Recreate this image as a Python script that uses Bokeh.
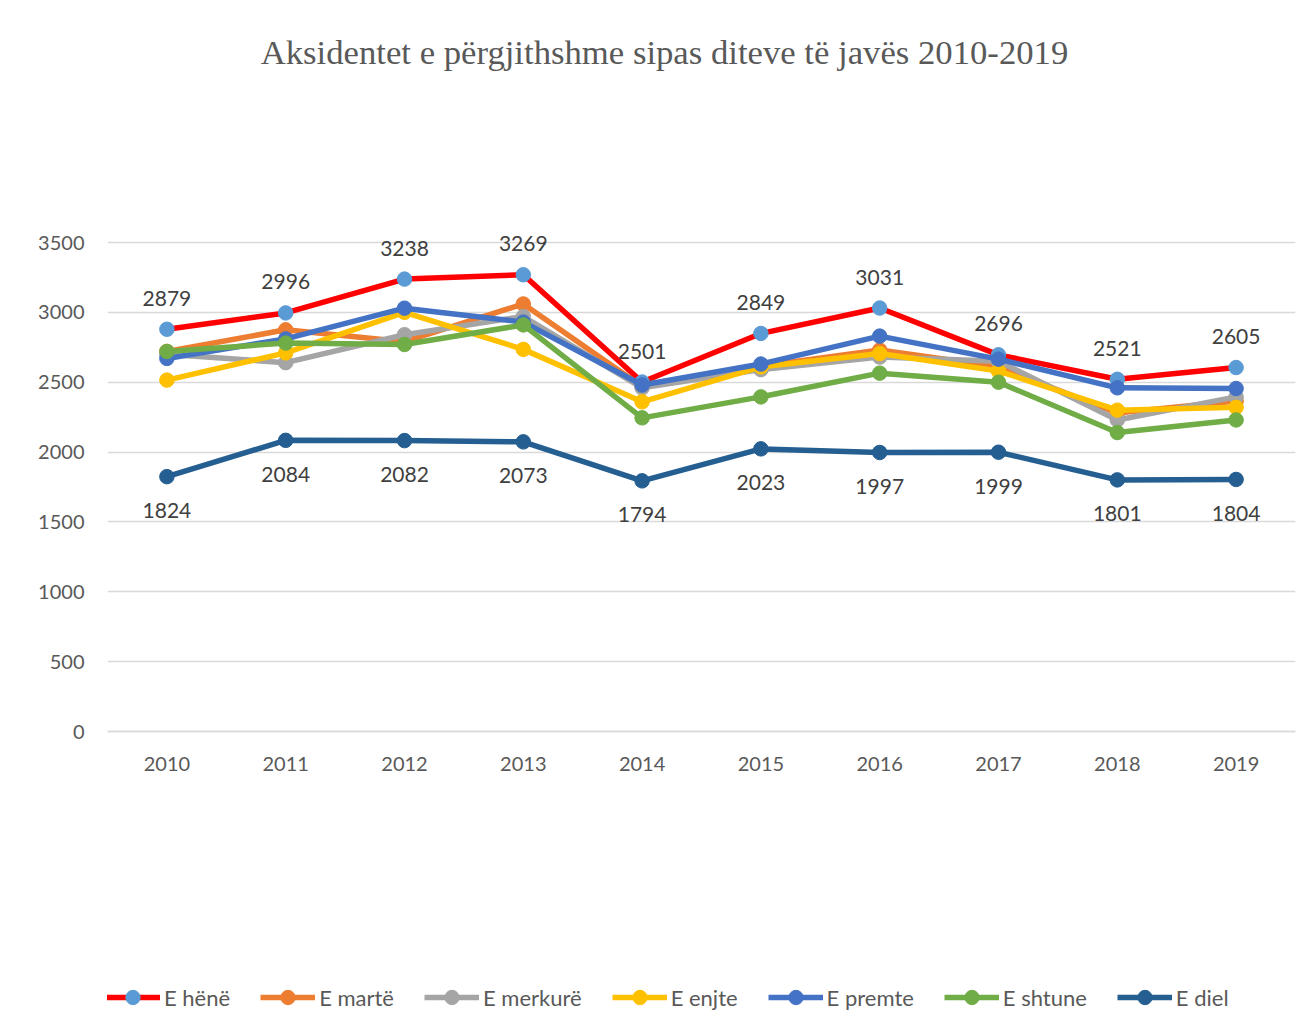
from bokeh.plotting import figure
from bokeh.models import Range1d, FixedTicker, Legend, LegendItem, Label, ColumnDataSource, FactorRange
from bokeh.embed import file_html
from bokeh.resources import INLINE
from bokeh.core.properties import value

years = ["2010", "2011", "2012", "2013", "2014", "2015", "2016", "2017", "2018", "2019"]
e_hene = [2879, 2996, 3238, 3269, 2501, 2849, 3031, 2696, 2521, 2605]
e_marte = [2720, 2875, 2790, 3060, 2470, 2615, 2730, 2610, 2280, 2365]
e_merkure = [2700, 2640, 2840, 2970, 2460, 2590, 2680, 2650, 2230, 2395]
e_enjte = [2515, 2710, 3000, 2735, 2360, 2610, 2705, 2580, 2300, 2320]
e_premte = [2670, 2810, 3030, 2930, 2480, 2630, 2830, 2665, 2460, 2455]
e_shtune = [2720, 2780, 2770, 2910, 2245, 2395, 2565, 2500, 2140, 2230]
e_diel = [1824, 2084, 2082, 2073, 1794, 2023, 1997, 1999, 1801, 1804]
y_ticks = [0, 500, 1000, 1500, 2000, 2500, 3000, 3500]

title_text = "Aksidentet e përgjithshme sipas diteve të javës 2010-2019"

series = [
    ("E hënë", e_hene, "#FF0000", "#5B9BD5"),
    ("E martë", e_marte, "#ED7D31", "#ED7D31"),
    ("E merkurë", e_merkure, "#A5A5A5", "#A5A5A5"),
    ("E enjte", e_enjte, "#FFC000", "#FFC000"),
    ("E premte", e_premte, "#4472C4", "#4472C4"),
    ("E shtune", e_shtune, "#70AD47", "#70AD47"),
    ("E diel", e_diel, "#255E91", "#255E91"),
]

SANS = "Lato"
p = figure(
    x_range=FactorRange(factors=years),
    y_range=Range1d(-2054.2, 5103.3),
    width=1298, height=1018,
    min_border_left=107, min_border_right=3, min_border_top=18, min_border_bottom=0,
    output_backend="svg", toolbar_location=None,
)
p.background_fill_color = "white"
p.border_fill_color = "white"
p.outline_line_color = None

# axes
p.yaxis.ticker = FixedTicker(ticks=y_ticks)
p.yaxis.axis_line_color = None
p.yaxis.major_tick_line_color = None
p.yaxis.minor_tick_line_color = None
p.yaxis.major_label_standoff = 17
p.yaxis.major_label_text_font = SANS
p.yaxis.major_label_text_font_size = "20px"
p.yaxis.major_label_text_color = "#595959"
p.ygrid.grid_line_color = "#D9D9D9"
p.ygrid.grid_line_width = 1.3

p.xaxis.fixed_location = 0
p.xaxis.axis_line_color = "#D9D9D9"
p.xaxis.axis_line_width = 1.3
p.xaxis.major_tick_line_color = None
p.xaxis.minor_tick_line_color = None
p.xaxis.major_label_standoff = 19
p.xaxis.major_label_text_font = SANS
p.xaxis.major_label_text_font_size = "20px"
p.xaxis.major_label_text_color = "#595959"
p.xgrid.grid_line_color = None

items = []
for name, vals, lc, mc in series:
    src = ColumnDataSource(dict(x=years, y=vals))
    lr = p.line("x", "y", source=src, line_color=lc, line_width=5.5)
    sr = p.scatter("x", "y", source=src, size=14.5, fill_color=mc, line_color=mc)
    items.append(LegendItem(label=name, renderers=[lr, sr]))

# data labels
lab_style = dict(text_font=value(SANS), text_font_size="21px", text_color="#404040",
                 text_align="center", text_baseline="middle")
p.text(x=years, y=e_hene, text=[str(v) for v in e_hene], y_offset=-31, **lab_style)
p.text(x=years, y=e_diel, text=[str(v) for v in e_diel], y_offset=34, **lab_style)

# title
p.add_layout(Label(x=557, y=966, x_units="screen", y_units="screen", text=title_text,
                   text_font="Liberation Serif", text_font_size="34.7px", text_color="#595959",
                   text_align="center", text_baseline="middle"))

legend = Legend(items=items, orientation="horizontal", location=(-2, 3),
                margin=0, padding=0, spacing=30, glyph_width=55, glyph_height=36,
                label_standoff=4, border_line_color=None, background_fill_alpha=0,
                label_text_font=SANS, label_text_font_size="22px", label_text_color="#595959")
p.add_layout(legend, "center")

open("out.html", "w").write(file_html(p, INLINE))
